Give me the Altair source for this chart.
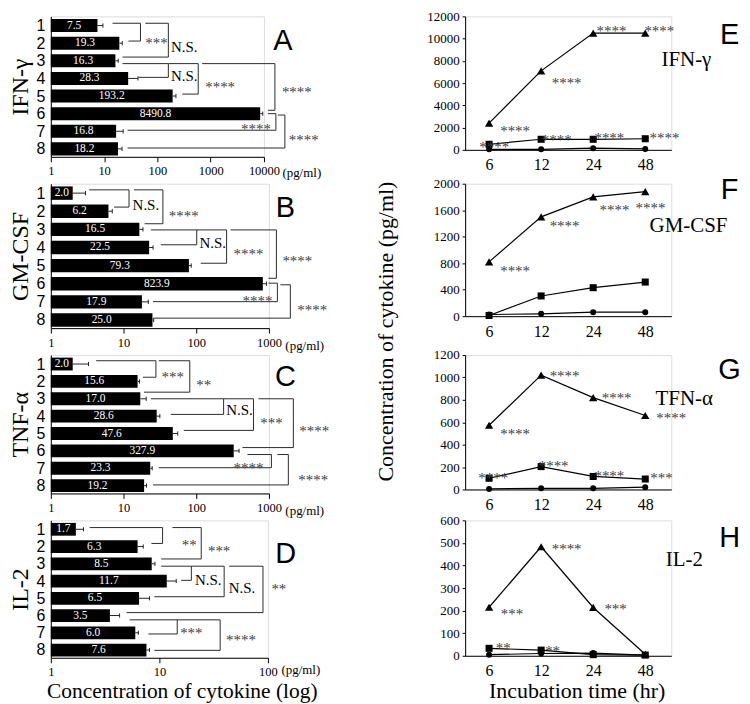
import math
import altair as alt
import pandas as pd

SERIF = "Liberation Serif"
SANS = "Liberation Sans"
STAR = "#404040"

groups = [1, 2, 3, 4, 5, 6, 7, 8]
times = ["6", "12", "24", "48"]

# ---------------- left column: bar panels (log scale) ----------------
A_vals = [7.5, 19.3, 16.3, 28.3, 193.2, 8490.8, 16.8, 18.2]
A_sd = [2.0, 2.6, 2.1, 15, 30, 1000, 6, 3.5]
# (row_top, row_bottom, x_vertical, x_start_top, x_start_bottom, label, label_x, label_row)
A_brackets = [
    (0.87, 1.88, 48.1, 14.4, 28.7, "***", 95.8, 1.82),
    (0.87, 2.79, 160.6, 59.7, 22.2, "N.S.", 319.7, 2.24),
    (3.16, 3.94, 160.6, 22.2, 44.2, "N.S.", 319.7, 3.89),
    (3.16, 4.89, 584, 160.6, 293, "****", 1506, 4.31),
    (3.16, 5.81, 16060, 693, 11880, "****", 41400, 4.62),
    (6.0, 6.94, 16760, 11880, 27.5, "****", 7087, 6.69),
    (6.08, 7.95, 24700, 18270, 27.5, "****", 55940, 7.31),
]

B_vals = [2.0, 6.2, 16.5, 22.5, 79.3, 823.9, 17.9, 25.0]
B_sd = [1.0, 0.8, 2.0, 3.0, 6.0, 100, 4.0, 1.0]
B_brackets = [
    (0.82, 1.77, 11.9, 3.37, 7.41, "N.S.", 20.3, 1.64),
    (0.82, 2.69, 34.8, 13.9, 19.5, "****", 67.4, 2.1),
    (3.03, 3.85, 101.6, 23.8, 32.6, "N.S.", 168.3, 3.76),
    (3.03, 4.87, 261.6, 101.6, 115.2, "****", 524, 4.22),
    (3.03, 5.70, 1267, 297, 984, "****", 2457, 4.59),
    (5.97, 6.99, 1307, 984, 25.4, "****", 696, 6.8),
    (6.06, 7.90, 1971, 1438, 26.2, "****", 3944, 7.26),
]

C_vals = [2.0, 15.6, 17.0, 28.6, 47.6, 327.9, 23.3, 19.2]
C_sd = [1.3, 1.0, 3.5, 3.0, 8.0, 60, 1.5, 1.5]
C_brackets = [
    (0.81, 1.76, 27.9, 4.2, 18.5, "***", 47.6, 1.57),
    (0.81, 2.62, 81.5, 30.6, 19.1, "**", 126.7, 2.05),
    (3.0, 3.90, 238, 23.8, 44.7, "N.S.", 394, 3.67),
    (3.0, 4.82, 613, 238, 67.4, "***", 1082, 4.24),
    (3.0, 5.81, 2167, 718, 433, "****", 4200, 4.66),
    (6.21, 6.97, 1082, 507, 30.6, "****", 524, 6.82),
    (6.21, 7.96, 1849, 1307, 25.4, "****", 4074, 7.49),
]

D_vals = [1.7, 6.3, 8.5, 11.7, 6.5, 3.5, 6.0, 7.6]
D_sd = [0.3, 0.8, 0.6, 2.6, 1.6, 0.8, 0.4, 0.5]
D_brackets = [
    (0.9, 1.82, 10.7, 2.28, 8.45, "**", 18.8, 1.76),
    (0.9, 2.72, 24.3, 13.2, 10.4, "***", 35.5, 2.09),
    (3.14, 3.96, 19.7, 10.4, 15.9, "N.S.", 28.2, 3.96),
    (3.14, 4.91, 39.5, 19.7, 9.0, "N.S.", 57.7, 4.43),
    (3.14, 5.83, 90.0, 43.9, 4.98, "**", 126, 4.28),
    (6.25, 7.07, 14.6, 5.31, 7.93, "***", 19.7, 6.82),
    (6.25, 8.02, 36.3, 14.6, 9.0, "****", 56.5, 7.26),
]

# ---------------- right column: time courses ----------------
E_tri = [2400, 7100, 10500, 10500]
E_sq = [500, 950, 950, 1000]
E_circ = [50, 50, 150, 80]
E_notes = [(0.5, 2000, "****"), (1.49, 6235, "****"), (2.35, 10940, "****"),
           (3.27, 10940, "****"), (0.1, 530, "****"), (1.3, 1120, "****"),
           (2.31, 1320, "****"), (3.37, 1320, "****")]

F_tri = [820, 1500, 1800, 1880]
F_sq = [10, 305, 430, 515]
F_circ = [25, 35, 60, 60]
F_notes = [(0.5, 726, "****"), (1.45, 1407, "****"), (2.41, 1654, "****"),
           (3.1, 1679, "****")]

G_tri = [573, 1020, 820, 660]
G_sq = [100, 204, 116, 93]
G_circ = [5, 10, 10, 20]
G_notes = [(1.45, 1039, "****"), (2.45, 844, "****"), (3.5, 665, "****"),
           (0.5, 524, "****"), (0.08, 128, "****"), (1.24, 233, "****"),
           (2.31, 146, "****"), (3.31, 128, "***")]

H_tri = [215, 483, 214, 7]
H_sq = [33, 25, 5, 3]
H_circ = [5, 10, 12, 3]
H_notes = [(1.49, 484, "****"), (0.44, 199, "***"), (2.43, 222, "***"),
           (0.27, 48, "**"), (1.22, 36, "**")]


def left_panel(name, vals, sds, brackets, letter, letter_x, letter_y, xmax,
               width, height, pg_x, pg_y, bottom_title=None):
    bars = pd.DataFrame({"row": groups, "value": vals, "sd": sds,
                         "text": [f"{v:.1f}" for v in vals]})
    seg = []
    for (yt, yb, xv, xst, xsb, lab, lx, ly) in brackets:
        seg.append({"x": xst, "x2": xv, "y": yt, "y2": yt})
        seg.append({"x": xv, "x2": xv, "y": yt, "y2": yb})
        seg.append({"x": xsb, "x2": xv, "y": yb, "y2": yb})
    segs = pd.DataFrame(seg)
    labs = pd.DataFrame([{"x": b[6], "y": b[7], "t": b[5]} for b in brackets])
    let = pd.DataFrame({"x": [letter_x], "y": [letter_y], "t": [letter]})

    xs = alt.Scale(type="log", domain=[1, xmax], nice=False)
    ys = alt.Scale(domain=[0.48, 8.45], reverse=True, nice=False, zero=False)
    decades = [10 ** k for k in range(int(round(math.log10(xmax))) + 1)]
    xaxis = alt.Axis(values=decades, format="d", grid=False, domainColor="black",
                     tickColor="black", tickSize=5, labelFont=SERIF, labelFontSize=12.5,
                     labelColor="black", labelPadding=3, labelFlush=False,
                     titleFont=SERIF, titleFontSize=13,
                     titleFontWeight="normal", titleColor="black", titleX=pg_x,
                     titleY=pg_y, titleAlign="left", titleBaseline="middle",
                     titleAngle=0)
    yaxis = alt.Axis(values=groups, format="d", grid=False, ticks=False,
                     domainColor="black", labelFont=SANS, labelFontSize=16,
                     labelColor="black", labelPadding=6,
                     titleFont=SERIF, titleFontSize=24, titleFontWeight="normal",
                     titleColor="black", titleAngle=270, titleX=-30,
                     titleY=height / 2, titleAlign="center", titleBaseline="middle")

    def X(f):
        return alt.X(f, scale=xs, axis=xaxis, title="(pg/ml)")

    def Y(f):
        return alt.Y(f, scale=ys, axis=yaxis, title=name)

    base = alt.Chart(bars)
    rect = base.transform_calculate(
        x0="1", y1="datum.row - 0.37", y2="datum.row + 0.37"
    ).mark_rect(color="black").encode(
        x=X("x0:Q"), x2="value:Q", y=Y("y1:Q"), y2="y2:Q")
    err = base.transform_calculate(hi="datum.value + datum.sd").mark_rule(
        color="#222", strokeWidth=1).encode(x=X("value:Q"), x2="hi:Q", y=Y("row:Q"))
    cap = base.transform_calculate(
        hi="datum.value + datum.sd", c1="datum.row - 0.12", c2="datum.row + 0.12"
    ).mark_rule(color="#222", strokeWidth=1).encode(
        x=X("hi:Q"), y=Y("c1:Q"), y2="c2:Q")
    vtext = base.transform_calculate(cx="sqrt(datum.value)").mark_text(
        color="white", font=SERIF, fontSize=11.5, baseline="middle", align="center"
    ).encode(x=X("cx:Q"), y=Y("row:Q"), text="text:N")
    br = alt.Chart(segs).mark_rule(color="#2a2a2a", strokeWidth=1).encode(
        x=X("x:Q"), x2="x2:Q", y=Y("y:Q"), y2="y2:Q")
    ns = alt.Chart(labs).transform_filter("datum.t == 'N.S.'").mark_text(
        font=SERIF, fontSize=15, color="black", baseline="middle", align="center"
    ).encode(x=X("x:Q"), y=Y("y:Q"), text="t:N")
    stars = alt.Chart(labs).transform_filter("datum.t != 'N.S.'").mark_text(
        font=SERIF, fontSize=15, color=STAR, baseline="middle", align="center", dy=3
    ).encode(x=X("x:Q"), y=Y("y:Q"), text="t:N")
    lt = alt.Chart(let).mark_text(font=SANS, fontSize=29, color="black",
                                  baseline="middle", align="center").encode(
        x=X("x:Q"), y=Y("y:Q"), text="t:N")
    props = dict(width=width, height=height)
    if bottom_title:
        props["title"] = alt.TitleParams(
            text=bottom_title, orient="bottom", anchor="middle", dx=23, offset=3,
            font=SERIF, fontSize=21.5, fontWeight="normal", color="black")
    return alt.layer(rect, err, cap, vtext, br, ns, stars, lt).properties(**props)


def right_panel(tri, sq, circ, notes, name, name_pos, letter, letter_pos,
                ymax, ystep, height, ytitle=None, xtitle=None):
    df = pd.DataFrame({"idx": list(range(4)) * 3, "val": tri + sq + circ,
                       "s": ["tri"] * 4 + ["sq"] * 4 + ["circ"] * 4})
    nt = pd.DataFrame({"x": [n[0] for n in notes], "y": [n[1] for n in notes],
                       "t": [n[2] for n in notes]})
    nm = pd.DataFrame({"x": [name_pos[0]], "y": [name_pos[1]], "t": [name]})
    lt = pd.DataFrame({"x": [letter_pos[0]], "y": [letter_pos[1]], "t": [letter]})

    xs = alt.Scale(domain=[-0.46, 3.5], nice=False, zero=False)
    ys = alt.Scale(domain=[0, ymax], nice=False)
    label_expr = "[" + ",".join(f"'{t}'" for t in times) + "][datum.value]"
    xkw = dict(values=[0, 1, 2, 3], labelExpr=label_expr, grid=False, ticks=False,
               domainColor="black", labelFont=SERIF, labelFontSize=16,
               labelColor="black", labelPadding=7)
    if xtitle:
        xkw.update(titleFont=SERIF, titleFontSize=22,
                   titleFontWeight="normal", titleColor="black", titleX=112,
                   titleY=42, titleAlign="center", titleBaseline="alphabetic")
    ykw = dict(values=list(range(0, ymax + 1, ystep)), format="d", grid=False,
               tickSize=3, tickColor="black", domainColor="black", labelFont=SERIF,
               labelFontSize=13, labelColor="black", labelPadding=3)
    if ytitle:
        ykw.update(titleFont=SERIF, titleFontSize=22,
                   titleFontWeight="normal", titleColor="black", titleAngle=270,
                   titleX=-80, titleY=-24, titleAlign="center",
                   titleBaseline="middle")
    xaxis = alt.Axis(**xkw)
    yaxis = alt.Axis(**ykw)

    def X(f):
        return alt.X(f, scale=xs, axis=xaxis, title=xtitle if xtitle else None)

    def Y(f):
        return alt.Y(f, scale=ys, axis=yaxis, title=ytitle if ytitle else None)

    base = alt.Chart(df)
    line = base.mark_line(color="black", strokeWidth=1.2).encode(
        x=X("idx:Q"), y=Y("val:Q"), detail="s:N")
    layers = [line]
    for key, shape, size in [("circ", "circle", 36), ("sq", "square", 50),
                             ("tri", "triangle-up", 70)]:
        layers.append(base.transform_filter(f"datum.s == '{key}'").mark_point(
            shape=shape, size=size, filled=True, opacity=1, color="black").encode(
            x=X("idx:Q"), y=Y("val:Q")))
    layers.append(alt.Chart(nt).mark_text(
        font=SERIF, fontSize=15, color=STAR, baseline="middle", align="center", dy=3
    ).encode(x=X("x:Q"), y=Y("y:Q"), text="t:N"))
    layers.append(alt.Chart(nm).mark_text(
        font=SERIF, fontSize=21, color="black", baseline="middle", align="center"
    ).encode(x=X("x:Q"), y=Y("y:Q"), text="t:N"))
    layers.append(alt.Chart(lt).mark_text(
        font=SANS, fontSize=29, color="black", baseline="middle", align="center"
    ).encode(x=X("x:Q"), y=Y("y:Q"), text="t:N"))
    return alt.layer(*layers).properties(width=207, height=height)


pA = left_panel("IFN-γ", A_vals, A_sd, A_brackets, "A", 22650, 1.88, 10000,
                214, 141, 232, 16)
pB = left_panel("GM-CSF", B_vals, B_sd, B_brackets, "B", 1683, 1.83, 1000,
                219, 145, 235, 17)
pC = left_panel("TNF-α", C_vals, C_sd, C_brackets, "C", 1683, 1.76, 1000,
                219, 139, 235, 17)
pD = left_panel("IL-2", D_vals, D_sd, D_brackets, "D", 146, 2.43, 100,
                218, 138, 231, 12, bottom_title="Concentration of cytokine (log)")

pE = right_panel(E_tri, E_sq, E_circ, E_notes, "IFN-γ", (3.79, 8088), "E",
                 (4.62, 10294), 12000, 2000, 134)
pF = right_panel(F_tri, F_sq, F_circ, F_notes, "GM-CSF", (3.83, 1358), "F",
                 (4.62, 1901), 2000, 400, 133)
pG = right_panel(G_tri, G_sq, G_circ, G_notes, "TFN-α", (3.75, 805), "G",
                 (4.62, 1068), 1200, 200, 135,
                 ytitle="Concentration of cytokine (pg/ml)")
pH = right_panel(H_tri, H_sq, H_circ, H_notes, "IL-2", (3.75, 426), "H",
                 (4.62, 523), 600, 100, 136, xtitle="Incubation time (hr)")

chart = alt.concat(pA, pE, pB, pF, pC, pG, pD, pH, columns=2).properties(
    spacing={"row": 27, "column": 197}, bounds="flush", padding=0
).configure_view(strokeWidth=0, stroke="white", fill="white").configure(
    background="white")

chart.save("out.html", embed_options={"renderer": "svg", "actions": False})
